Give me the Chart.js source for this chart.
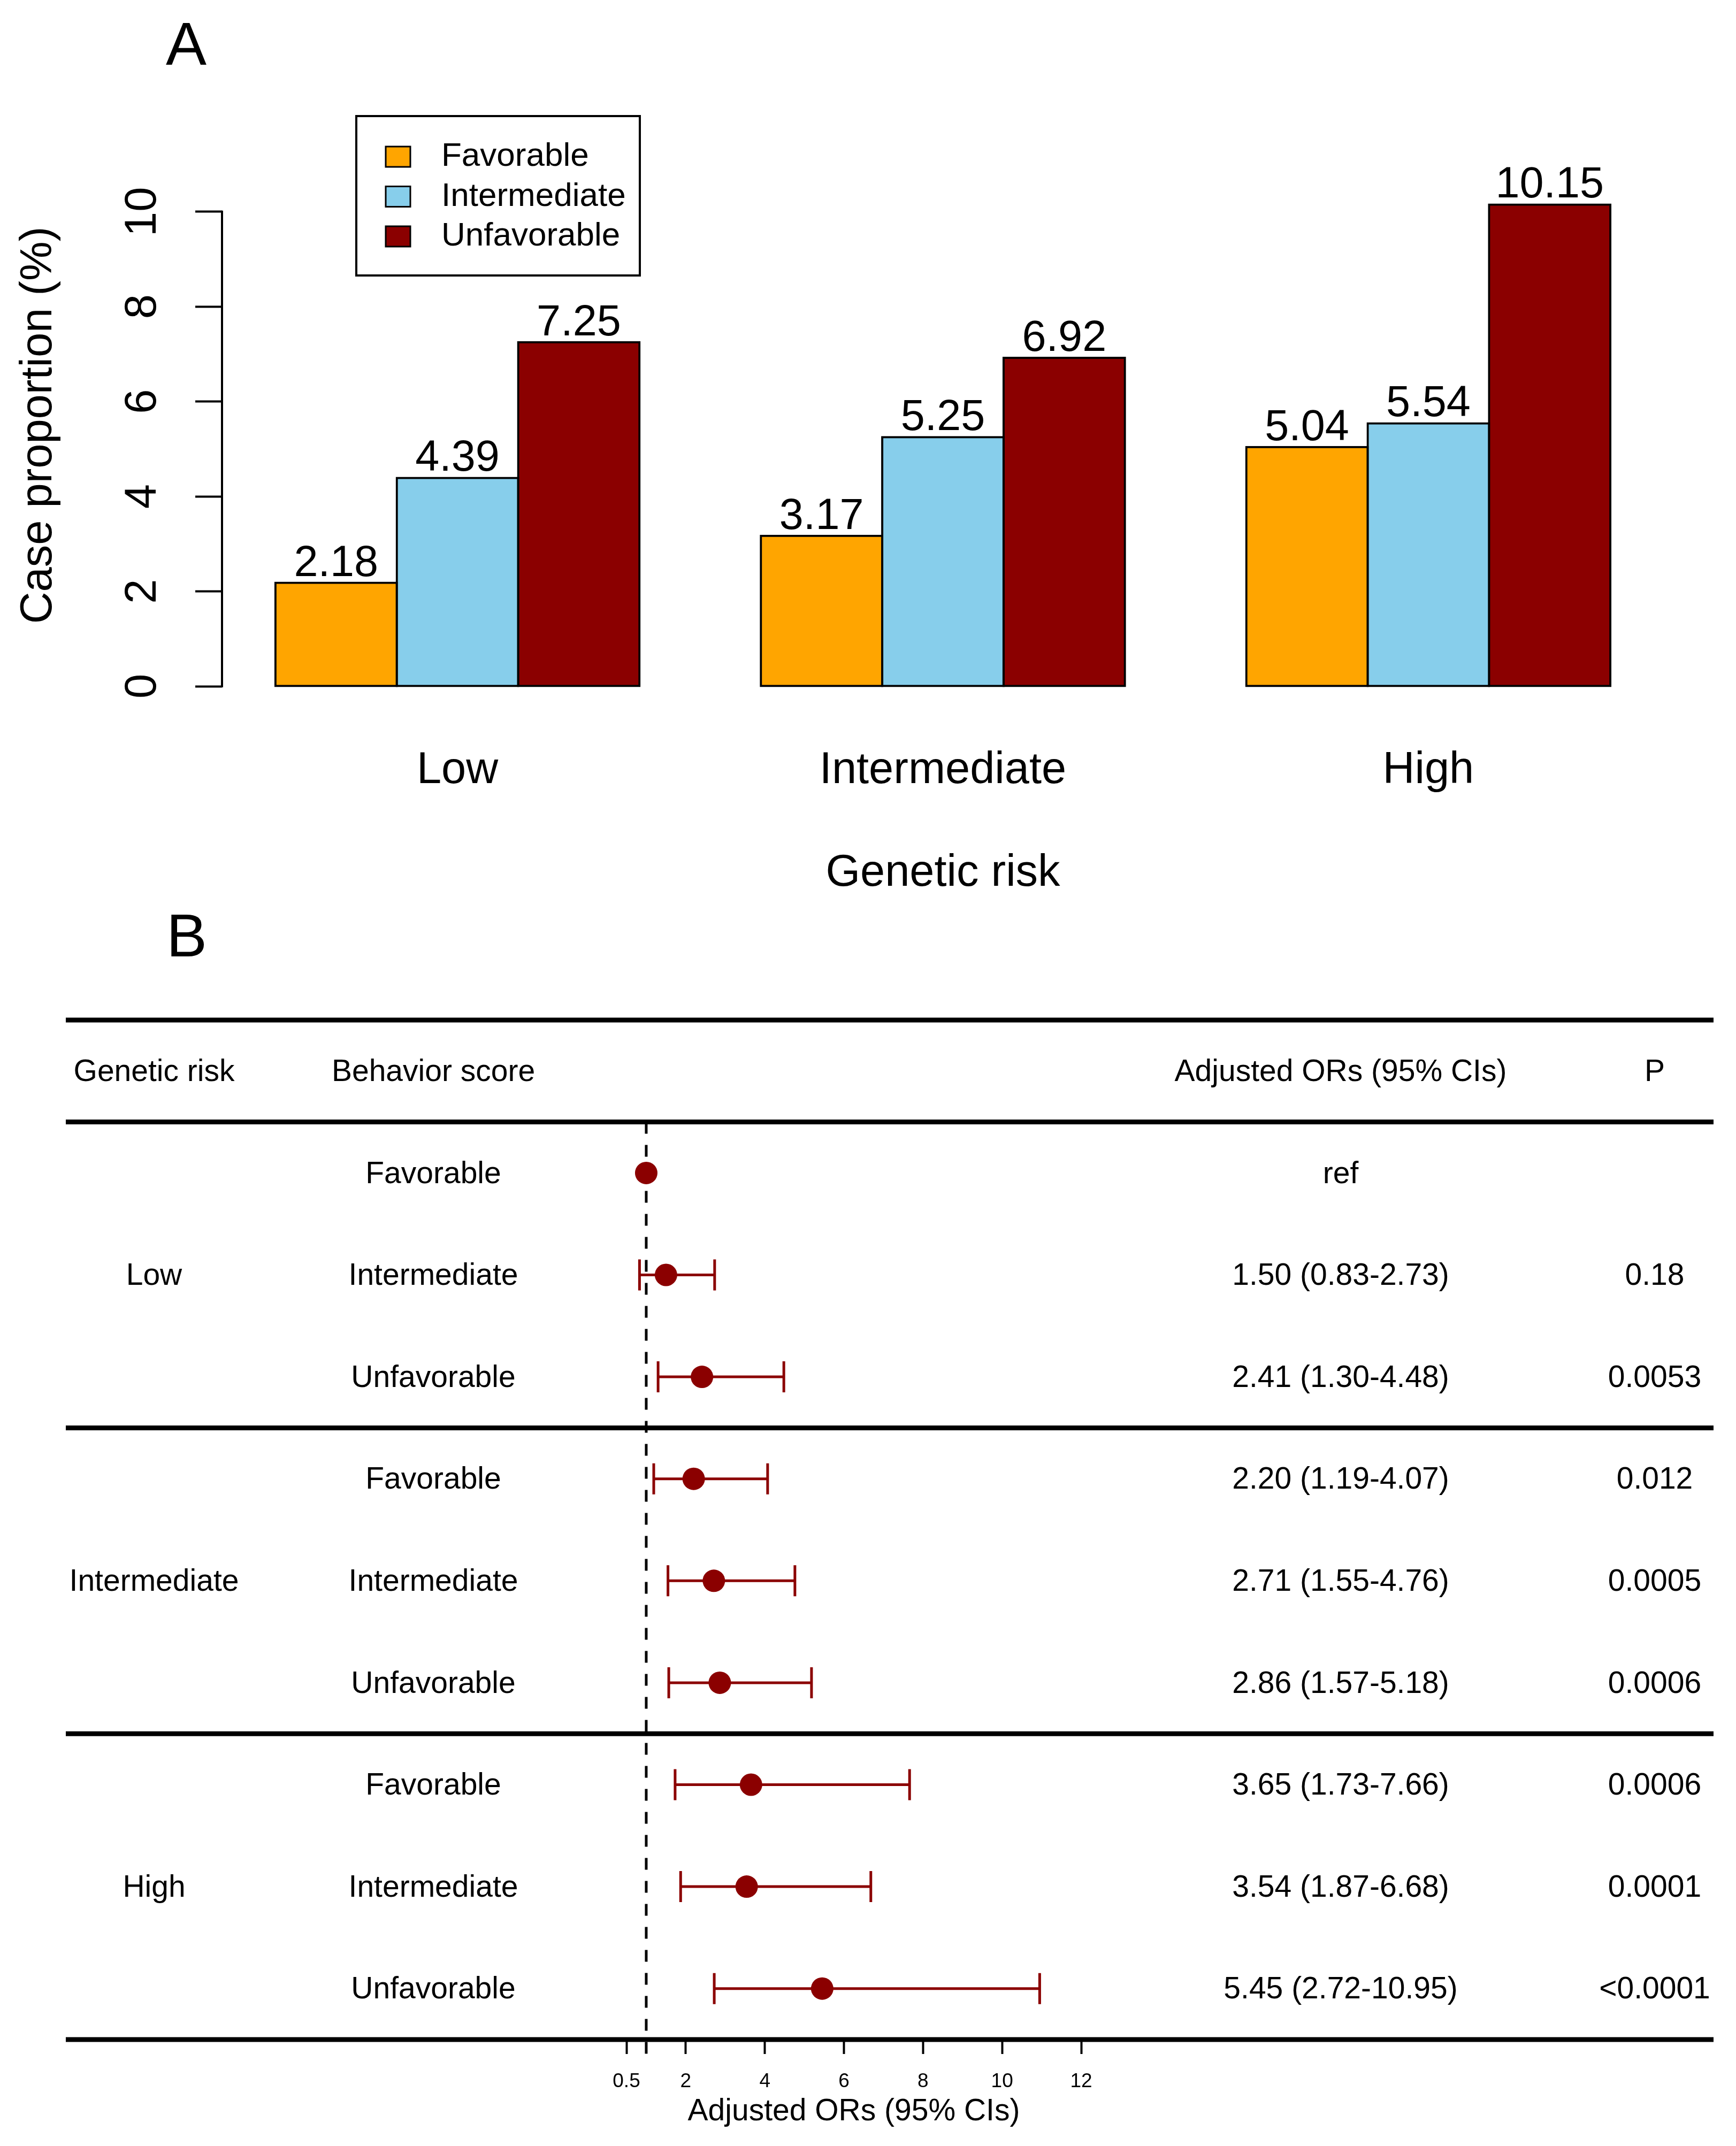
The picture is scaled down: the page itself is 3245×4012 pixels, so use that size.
<!DOCTYPE html>
<html>
<head>
<meta charset="utf-8">
<script src="https://cdn.jsdelivr.net/npm/chart.js@4.4.1/dist/chart.umd.min.js"></script>
<style>
html, body { margin: 0; padding: 0; background: #fff; }
body { width: 3245px; height: 4012px; position: relative; overflow: hidden; }
canvas { position: absolute; left: 0; }
#panelA { top: 0; }
#panelB { top: 1690px; }
</style>
</head>
<body>
<canvas id="panelA" width="3245" height="1690"></canvas>
<canvas id="panelB" width="3245" height="2322"></canvas>
<script>
// ---------------- DATA ----------------
const geneticRiskGroups = ['Low', 'Intermediate', 'High'];
const behaviorScores = ['Favorable', 'Intermediate', 'Unfavorable'];
const favorableValues = [2.18, 3.17, 5.04];
const intermediateValues = [4.39, 5.25, 5.54];
const unfavorableValues = [7.25, 6.92, 10.15];
const caseTickValues = [0, 2, 4, 6, 8, 10];

const orEstimates = [1.00, 1.50, 2.41, 2.20, 2.71, 2.86, 3.65, 3.54, 5.45];
const orLower = [null, 0.83, 1.30, 1.19, 1.55, 1.57, 1.73, 1.87, 2.72];
const orUpper = [null, 2.73, 4.48, 4.07, 4.76, 5.18, 7.66, 6.68, 10.95];
const pValues = ['', '0.18', '0.0053', '0.012', '0.0005', '0.0006', '0.0006', '0.0001', '<0.0001'];
const orTickValues = [0.5, 2, 4, 6, 8, 10, 12];
const tableHeaders = ['Genetic risk', 'Behavior score', 'Adjusted ORs (95% CIs)', 'P'];
const refOR = 1;

// ---------------- STYLE ----------------
const FONT = '"Liberation Sans", Arial, Helvetica, sans-serif';
Chart.defaults.font.family = FONT;
Chart.defaults.color = '#000';
const seriesColors = ['#FFA500', '#87CEEB', '#8B0000'];
const seriesValues = [favorableValues, intermediateValues, unfavorableValues];
const dotColor = '#8B0000';

// ---------------- PANEL A ----------------
const panelAPlugin = {
  id: 'panelAExtras',
  afterDatasetsDraw(chart) {
    const ctx = chart.ctx;
    const ys = chart.scales.y;
    const left = chart.chartArea.left;
    ctx.save();
    // y axis line (only over tick range, like R)
    ctx.strokeStyle = '#000';
    ctx.lineWidth = 4;
    ctx.beginPath();
    ctx.moveTo(left, ys.getPixelForValue(caseTickValues[0]) + 2);
    ctx.lineTo(left, ys.getPixelForValue(caseTickValues[caseTickValues.length - 1]) - 2);
    ctx.stroke();

    // bar value labels
    ctx.fillStyle = '#000';
    ctx.font = '81px ' + FONT;
    ctx.textAlign = 'center';
    ctx.textBaseline = 'alphabetic';
    chart.data.datasets.forEach((ds, di) => {
      chart.getDatasetMeta(di).data.forEach((bar, i) => {
        ctx.fillText(seriesValues[di][i].toFixed(2), bar.x, bar.y - 13);
      });
    });

    // legend box
    ctx.lineWidth = 4;
    ctx.strokeStyle = '#000';
    ctx.strokeRect(666, 217, 530, 298);
    chart.data.datasets.forEach((ds, i) => {
      const cy = 293 + i * 74.5;
      ctx.fillStyle = ds.backgroundColor;
      ctx.fillRect(721, cy - 19, 46, 38);
      ctx.lineWidth = 3;
      ctx.strokeRect(721, cy - 19, 46, 38);
      ctx.fillStyle = '#000';
      ctx.font = '62px ' + FONT;
      ctx.textAlign = 'left';
      ctx.textBaseline = 'middle';
      ctx.fillText(ds.label, 825, cy);
    });

    // panel letter
    ctx.font = '114px ' + FONT;
    ctx.textAlign = 'center';
    ctx.textBaseline = 'alphabetic';
    ctx.fillText('A', 348, 121);
    ctx.restore();
  }
};

new Chart(document.getElementById('panelA'), {
  type: 'bar',
  data: {
    datasets: behaviorScores.map((name, s) => ({
      label: name,
      data: seriesValues[s].map((v, i) => ({ x: i, y: v })),
      backgroundColor: seriesColors[s],
      borderColor: '#000',
      borderWidth: 4,
      borderSkipped: false,
      inflateAmount: 2,
      barPercentage: 1,
      categoryPercentage: 0.75,
      clip: false
    }))
  },
  options: {
    responsive: false,
    animation: false,
    devicePixelRatio: 1,
    layout: { padding: { left: 0, right: 135, top: 307, bottom: 0 } },
    plugins: { legend: { display: false }, tooltip: { enabled: false }, title: { display: false } },
    scales: {
      x: {
        type: 'linear',
        min: -0.485,
        max: 2.485,
        offset: false,
        grid: { display: false, offset: false },
        border: { display: false },
        afterBuildTicks: (s) => { s.ticks = geneticRiskGroups.map((_, i) => ({ value: i })); },
        ticks: {
          autoSkip: false, minRotation: 0, maxRotation: 0, padding: 100,
          font: { size: 83 }, color: '#000',
          callback: (v) => geneticRiskGroups[v]
        },
        title: { display: true, text: 'Genetic risk', font: { size: 83 }, color: '#000', padding: { top: 0, bottom: 7 } },
        afterFit: (s) => { s.height = 407; }
      },
      y: {
        type: 'linear',
        min: 0,
        max: 11,
        afterBuildTicks: (s) => { s.ticks = caseTickValues.map((v) => ({ value: v })); },
        grid: { display: true, drawOnChartArea: false, drawTicks: true, tickLength: 50, tickWidth: 4, tickColor: '#000' },
        border: { display: false },
        ticks: { minRotation: 90, maxRotation: 90, crossAlign: 'center', padding: 51, font: { size: 83 }, color: '#000' },
        title: { display: true, text: 'Case proportion (%)', font: { size: 83 }, color: '#000', padding: { top: 23, bottom: 0 } },
        afterFit: (s) => { s.width = 415; }
      }
    }
  },
  plugins: [panelAPlugin]
});

// ---------------- PANEL B ----------------
const nBehaviors = behaviorScores.length;
const ruleRows = [-0.5, 0.5].concat(geneticRiskGroups.map((_, g) => 0.5 + (g + 1) * nBehaviors));

const panelBPlugin = {
  id: 'panelBExtras',
  beforeDatasetsDraw(chart) {
    const ctx = chart.ctx, xs = chart.scales.x, ys = chart.scales.y, area = chart.chartArea;
    ctx.save();
    // table rules
    ctx.strokeStyle = '#000';
    ctx.lineWidth = 9;
    ruleRows.forEach((r) => {
      const y = ys.getPixelForValue(r);
      ctx.beginPath();
      ctx.moveTo(123, y);
      ctx.lineTo(3203, y);
      ctx.stroke();
    });
    // reference line at OR = 1
    const xr = xs.getPixelForValue(refOR);
    ctx.lineWidth = 5;
    ctx.setLineDash([22, 21]);
    ctx.beginPath();
    ctx.moveTo(xr, ys.getPixelForValue(0.5));
    ctx.lineTo(xr, area.bottom + 27);
    ctx.stroke();
    ctx.setLineDash([]);
    // confidence intervals
    ctx.strokeStyle = dotColor;
    ctx.lineWidth = 5;
    orEstimates.forEach((v, i) => {
      if (orLower[i] == null) return;
      const y = ys.getPixelForValue(i + 1);
      const x1 = xs.getPixelForValue(orLower[i]);
      const x2 = xs.getPixelForValue(orUpper[i]);
      ctx.beginPath();
      ctx.moveTo(x1, y); ctx.lineTo(x2, y);
      ctx.moveTo(x1, y - 29); ctx.lineTo(x1, y + 29);
      ctx.moveTo(x2, y - 29); ctx.lineTo(x2, y + 29);
      ctx.stroke();
    });
    ctx.restore();
  },
  afterDatasetsDraw(chart) {
    const ctx = chart.ctx, ys = chart.scales.y;
    const cols = [288, 810, 2506, 3093];
    ctx.save();
    ctx.fillStyle = '#000';
    ctx.font = '57px ' + FONT;
    ctx.textAlign = 'center';
    ctx.textBaseline = 'middle';
    const yh = ys.getPixelForValue(0) + 3;
    tableHeaders.forEach((h, c) => ctx.fillText(h, cols[c], yh));
    orEstimates.forEach((v, i) => {
      const y = ys.getPixelForValue(i + 1) + 3;
      const g = Math.floor(i / nBehaviors), b = i % nBehaviors;
      if (b === Math.floor(nBehaviors / 2)) ctx.fillText(geneticRiskGroups[g], cols[0], y);
      ctx.fillText(behaviorScores[b], cols[1], y);
      const txt = orLower[i] == null ? 'ref'
        : v.toFixed(2) + ' (' + orLower[i].toFixed(2) + '-' + orUpper[i].toFixed(2) + ')';
      ctx.fillText(txt, cols[2], y);
      ctx.fillText(pValues[i], cols[3], y);
    });
    ctx.font = '114px ' + FONT;
    ctx.textBaseline = 'alphabetic';
    ctx.fillText('B', 349, 98);
    ctx.restore();
  }
};

new Chart(document.getElementById('panelB'), {
  type: 'scatter',
  data: {
    datasets: [{
      label: 'Adjusted OR',
      data: orEstimates.map((v, i) => ({ x: v, y: i + 1 })),
      pointRadius: 21,
      pointHoverRadius: 21,
      pointBackgroundColor: dotColor,
      pointBorderColor: dotColor,
      pointBorderWidth: 0,
      showLine: false,
      clip: false
    }]
  },
  options: {
    responsive: false,
    animation: false,
    devicePixelRatio: 1,
    layout: { padding: { left: 1171, right: 1224, top: 217, bottom: 0 } },
    plugins: { legend: { display: false }, tooltip: { enabled: false }, title: { display: false } },
    scales: {
      x: {
        type: 'linear',
        min: orTickValues[0],
        max: orTickValues[orTickValues.length - 1],
        afterBuildTicks: (s) => { s.ticks = orTickValues.map((v) => ({ value: v })); },
        grid: { display: true, drawOnChartArea: false, drawTicks: true, tickLength: 27, tickWidth: 4, tickColor: '#000' },
        border: { display: false },
        ticks: { autoSkip: false, minRotation: 0, maxRotation: 0, padding: 30, font: { size: 37 }, color: '#000', callback: (v) => String(v) },
        title: { display: true, text: 'Adjusted ORs (95% CIs)', font: { size: 57 }, color: '#000', padding: { top: 0, bottom: 30 } },
        afterFit: (s) => { s.height = 199; }
      },
      y: { type: 'linear', display: false, reverse: true, min: -0.5, max: 9.5 }
    }
  },
  plugins: [panelBPlugin]
});
</script>
</body>
</html>
